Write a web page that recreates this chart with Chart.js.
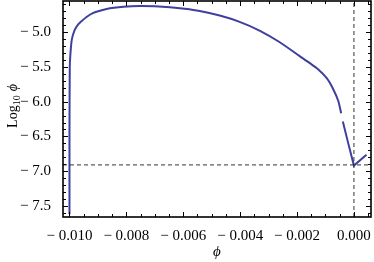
<!DOCTYPE html>
<html>
<head>
<meta charset="UTF-8">
<title>Log10 phi-dot vs phi</title>
<script src="https://cdn.jsdelivr.net/npm/chart.js"></script>
<style>
  html, body { margin: 0; padding: 0; background: #fff; }
  canvas { display: block; }
</style>
</head>
<body>
<canvas id="chart" width="374" height="262"></canvas>
<script>
// main branch of the curve
const phi = [-0.01000, -0.01000, -0.00999, -0.00997, -0.00992, -0.00982, -0.00972, -0.00960,
  -0.00940, -0.00918, -0.00893, -0.00858, -0.00810, -0.00753, -0.00700, -0.00647, -0.00595,
  -0.00542, -0.00472, -0.00402, -0.00332, -0.00262, -0.00192, -0.00155, -0.00127, -0.00095,
  -0.00074, -0.00055, -0.00045];
const logPhiDot = [-7.62, -6.40, -5.50, -5.33, -5.11, -4.97, -4.90, -4.85,
  -4.78, -4.725, -4.69, -4.655, -4.632, -4.622, -4.627, -4.640, -4.662,
  -4.695, -4.760, -4.850, -4.975, -5.140, -5.340, -5.445, -5.530, -5.665,
  -5.81, -5.99, -6.165];
// short branch near phi = 0
const phiTail = [-0.00039, -0.00020, 0.00000, 0.00044];
const logPhiDotTail = [-6.286, -6.60, -6.92, -6.765];

const refLevel = -6.91;   // horizontal dashed line
const refPhi = 0.0;       // vertical dashed line

const xTicks = [-0.010, -0.008, -0.006, -0.004, -0.002, 0.000];
const yTicks = [-7.5, -7.0, -6.5, -6.0, -5.5, -5.0];
const xRange = [-0.010228, 0.0006];
const yRange = [-7.66, -4.55];

const blue = '#3f3f9f';
const serif = "'Liberation Serif', 'DejaVu Serif', serif";

function fmt(v, d) {
  const s = Math.abs(v).toFixed(d);
  return (v < -1e-12 ? '\u2212 ' : '') + s;
}

// Mathematica style frame with inside ticks on all four sides
const framePlugin = {
  id: 'frame',
  afterDatasetsDraw(chart) {
    const { ctx, chartArea: a, scales: { x, y } } = chart;
    ctx.save();
    ctx.strokeStyle = '#000';
    ctx.lineWidth = 1;
    const tick = (v, len, axis) => {
      if (axis === 'x') {
        const px = Math.round(x.getPixelForValue(v)) + 0.5;
        ctx.beginPath();
        ctx.moveTo(px, a.bottom); ctx.lineTo(px, a.bottom - len);
        ctx.moveTo(px, a.top); ctx.lineTo(px, a.top + len);
        ctx.stroke();
      } else {
        const py = Math.round(y.getPixelForValue(v)) + 0.5;
        ctx.beginPath();
        ctx.moveTo(a.left, py); ctx.lineTo(a.left + len, py);
        ctx.moveTo(a.right, py); ctx.lineTo(a.right - len, py);
        ctx.stroke();
      }
    };
    for (let v = -0.0105; v <= 0.0006; v += 0.0005) {
      const major = xTicks.some(t => Math.abs(t - v) < 1e-7);
      if (v >= xRange[0] && v <= xRange[1]) tick(v, major ? 5 : 3, 'x');
    }
    for (let v = -7.6; v <= -4.55; v += 0.1) {
      const major = yTicks.some(t => Math.abs(t - v) < 1e-6);
      tick(v, major ? 5 : 3, 'y');
    }
    ctx.lineWidth = 1.6;
    ctx.strokeRect(a.left, a.top, a.right - a.left, a.bottom - a.top);

    // axis titles
    ctx.fillStyle = '#000';
    ctx.textBaseline = 'middle';
    ctx.textAlign = 'center';
    ctx.font = 'italic 15px ' + serif;
    ctx.fillText('\u03d5', (a.left + a.right) / 2, 252);

    ctx.translate(12, (a.top + a.bottom) / 2 - 3);
    ctx.rotate(-Math.PI / 2);
    ctx.textAlign = 'left';
    ctx.textBaseline = 'alphabetic';
    const big = '14px ' + serif, small = '10px ' + serif, ital = 'italic 14px ' + serif;
    ctx.font = big; const w1 = ctx.measureText('Log').width;
    ctx.font = small; const w2 = ctx.measureText('10').width;
    ctx.font = ital; const w3 = ctx.measureText('\u03d5').width;
    const gap = 4;
    let cx = -(w1 + w2 + gap + w3) / 2;
    ctx.font = big; ctx.fillText('Log', cx, 5); cx += w1;
    ctx.font = small; ctx.fillText('10', cx, 8); cx += w2 + gap;
    ctx.font = ital; ctx.fillText('\u03d5', cx, 5);
    ctx.font = big; ctx.fillText('\u02d9', cx + w3 / 2 - 1, -7);
    ctx.restore();
  }
};

const mainData = phi.map((p, i) => ({ x: p, y: logPhiDot[i] }));
const tailData = phiTail.map((p, i) => ({ x: p, y: logPhiDotTail[i] }));

new Chart(document.getElementById('chart'), {
  type: 'line',
  data: {
    datasets: [
      { data: [{ x: xRange[0], y: refLevel }, { x: xRange[1], y: refLevel }],
        borderColor: '#333', borderWidth: 1, borderDash: [4, 3], pointRadius: 0 },
      { data: [{ x: refPhi, y: yRange[0] }, { x: refPhi, y: yRange[1] }],
        borderColor: '#333', borderWidth: 1, borderDash: [4, 3], pointRadius: 0 },
      { data: mainData, borderColor: blue, borderWidth: 2, pointRadius: 0, tension: 0.25 },
      { data: tailData, borderColor: blue, borderWidth: 2, pointRadius: 0, tension: 0 }
    ]
  },
  options: {
    responsive: false,
    devicePixelRatio: 1,
    animation: false,
    parsing: false,
    layout: { padding: { top: 1, right: 3, left: 0, bottom: 0 } },
    plugins: { legend: { display: false }, tooltip: { enabled: false } },
    scales: {
      x: {
        type: 'linear', min: xRange[0], max: xRange[1],
        grid: { display: false }, border: { display: false },
        afterFit: s => { s.height = 45; s.paddingLeft = 0; s.paddingRight = 0; },
        afterBuildTicks: s => { s.ticks = xTicks.map(v => ({ value: v })); },
        ticks: { color: '#000', padding: 2, maxRotation: 0, autoSkip: false,
          font: { family: serif, size: 15 }, callback: v => fmt(v, 3) }
      },
      y: {
        type: 'linear', min: yRange[0], max: yRange[1],
        grid: { display: false }, border: { display: false },
        afterFit: s => { s.width = 63; s.paddingTop = 0; s.paddingBottom = 0; },
        afterBuildTicks: s => { s.ticks = yTicks.map(v => ({ value: v })); },
        ticks: { color: '#000', padding: 4, autoSkip: false,
          font: { family: serif, size: 15 }, callback: v => fmt(v, 1) }
      }
    }
  },
  plugins: [framePlugin]
});
</script>
</body>
</html>
